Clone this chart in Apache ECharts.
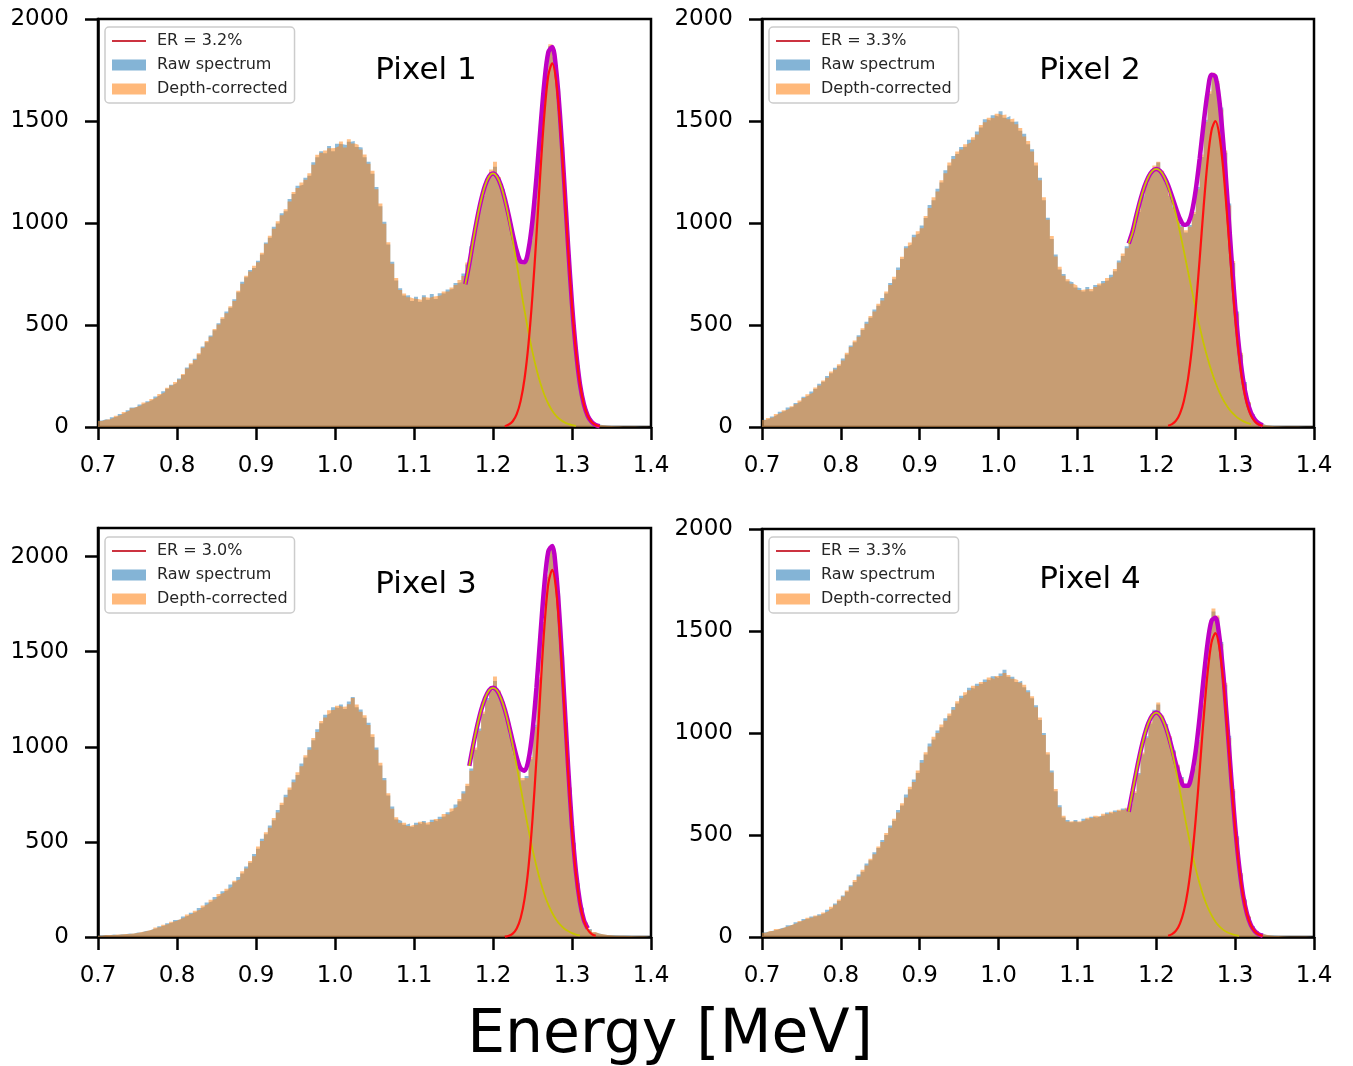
<!DOCTYPE html>
<html>
<head>
<meta charset="utf-8">
<title>Pixel spectra</title>
<script src="https://cdn.jsdelivr.net/npm/echarts@6/dist/echarts.min.js"></script>
<style>
  html, body { margin: 0; padding: 0; background: #ffffff; }
  #chart { width: 1353px; height: 1066px; }
</style>
</head>
<body>
<div id="chart"></div>
<script>
// histogram bins: 0.700 .. 1.400 MeV, 0.005 MeV wide
const binStart = 0.70, binWidth = 0.005, binEnd = 1.40;
const fitStep = 0.005;

// Pixel 1
const raw1 = [32,38,35,48,52,64,70,82,95,98,
  110,116,126,133,150,158,175,188,207,216,
  238,255,292,306,334,356,395,416,448,474,
  508,530,566,585,626,660,712,734,770,780,
  815,846,905,928,982,998,1048,1058,1118,1142,
  1182,1188,1222,1232,1298,1322,1352,1342,1378,1352,
  1388,1386,1382,1398,1402,1372,1370,1322,1300,1242,
  1176,1082,1006,894,810,718,680,644,646,618,
  638,614,646,624,652,628,656,654,674,676,
  706,710,752,796,886,964,1066,1134,1208,1250,
  1276,1214,1166,1074,996,894,836,796,830,914,
  1106,1324,1578,1752,1868,1812,1658,1372,1066,734,
  494,296,168,82,44,19,12,8,6,5,
  5,4,3,3,2,2,2,1,1,1];
const cor1 = [30,36,38,45,55,60,73,80,92,101,
  106,120,122,137,146,162,170,192,203,220,
  233,260,287,312,328,362,389,422,442,480,
  502,538,558,592,618,668,702,742,762,790,
  808,854,898,938,972,1008,1038,1068,1106,1152,
  1172,1198,1212,1244,1286,1334,1344,1356,1366,1368,
  1376,1400,1370,1410,1390,1384,1360,1336,1290,1256,
  1166,1096,996,906,800,730,672,654,636,630,
  628,624,636,634,640,642,646,664,664,684,
  696,720,740,806,874,976,1056,1146,1196,1262,
  1300,1226,1156,1086,986,906,826,804,822,926,
  1096,1338,1566,1770,1876,1830,1646,1390,1056,748,
  488,304,162,88,40,21,10,8,6,5,
  4,4,3,2,2,2,1,1,1,1];
const total1 = [700,801,916,1023,1114,1184,1228,1243,1228,1185,1118,1035,944,864,811,808,872,1014,1222,1464,
  1689,1837,1863,1749,1517,1212,892,603,376,212,112,54,24,10,4];
const yellow1 = [700,801,916,1023,1114,1184,1228,1243,1228,1184,1114,1023,916,801,683,569,462,367,284,214,
  158,114,80,55,37,24,15,9,5];
const red1 = [4,12,28,63,128,239,410,647,938,1250,1531,1723,1783,1694,1480,1188,877,594,371,212,112,54,24,10,4];

// Pixel 2
const raw2 = [36,40,52,60,75,78,95,98,118,125,
  148,155,174,186,212,222,250,264,290,300,
  336,356,400,415,450,476,516,535,576,594,
  632,654,706,724,782,824,886,894,942,948,
  988,1024,1088,1112,1168,1198,1258,1282,1328,1338,
  1372,1374,1408,1408,1448,1468,1508,1502,1528,1522,
  1548,1516,1524,1496,1498,1452,1438,1386,1362,1282,
  1222,1112,1026,922,846,772,750,714,710,684,
  680,664,686,666,696,694,716,718,746,764,
  816,838,886,924,996,1054,1136,1194,1246,1268,
  1296,1244,1206,1134,1086,1018,990,954,990,1044,
  1176,1324,1506,1634,1726,1684,1566,1344,1096,804,
  566,354,220,116,64,28,16,9,6,5,
  4,4,3,3,2,2,2,1,1,1];
const cor2 = [34,44,48,64,70,82,90,102,112,130,
  142,160,168,194,204,228,242,272,282,308,
  326,364,392,424,442,484,506,544,566,604,
  620,664,696,736,770,834,876,904,930,960,
  974,1034,1074,1126,1154,1210,1244,1296,1314,1350,
  1360,1386,1394,1420,1434,1480,1494,1516,1514,1536,
  1530,1532,1508,1512,1484,1466,1424,1402,1350,1296,
  1210,1126,1016,936,836,786,742,724,702,694,
  672,674,676,676,686,704,706,730,736,774,
  806,850,876,934,986,1064,1126,1206,1236,1282,
  1300,1256,1196,1144,1076,1030,982,964,982,1054,
  1166,1336,1496,1646,1736,1696,1556,1356,1086,814,
  556,364,212,122,60,31,14,9,6,4,
  4,3,3,3,2,2,1,1,1,1];
const total2 = [900,960,1041,1116,1179,1226,1255,1265,1255,1226,1185,1130,1072,1021,991,997,1052,1161,1315,1488,
  1639,1727,1718,1601,1392,1128,848,594,386,234,133,71,37,18,8];
const yellow2 = [900,955,1041,1116,1179,1226,1255,1265,1255,1226,1179,1116,1041,955,863,767,672,579,492,411,
  338,274,218,171,132,101,75,56,40,29,20,14];
const red2 = [6,14,31,66,128,230,380,582,823,1077,1301,1453,1500,1430,1260,1027,773,538,346,205,113,57,27,12,5];

// Pixel 3
const raw3 = [8,11,9,13,11,15,14,18,17,23,
  24,31,33,42,46,57,60,72,76,90,
  92,108,112,128,132,152,158,182,188,210,
  218,240,246,276,288,316,334,370,390,436,
  464,516,540,586,614,668,694,748,774,828,
  852,912,944,998,1034,1092,1124,1168,1178,1208,
  1204,1222,1198,1238,1262,1208,1196,1152,1126,1052,
  996,902,836,744,686,618,610,590,596,580,
  600,594,610,592,616,608,632,634,656,664,
  696,714,766,794,886,984,1096,1174,1256,1294,
  1346,1284,1236,1144,1066,964,896,824,846,934,
  1116,1354,1656,1894,2046,2004,1806,1474,1126,774,
  496,276,154,72,42,24,19,13,11,9,
  8,7,6,6,5,5,4,4,4,3];
const cor3 = [7,10,10,11,13,13,16,16,19,21,
  26,29,35,39,50,53,64,68,80,86,
  96,102,118,122,138,144,166,174,196,200,
  226,232,254,264,296,304,346,360,400,424,
  476,504,550,574,626,654,706,734,786,814,
  866,898,956,984,1046,1078,1136,1154,1192,1194,
  1216,1210,1212,1224,1256,1222,1184,1166,1114,1066,
  984,916,824,756,674,630,600,600,584,590,
  590,606,600,604,604,620,620,646,644,676,
  684,726,754,806,874,996,1084,1186,1244,1306,
  1370,1296,1224,1156,1054,976,884,836,834,946,
  1104,1366,1644,1906,2052,2016,1794,1486,1114,786,
  484,284,146,78,38,26,17,15,10,9,
  7,7,6,5,5,4,4,4,3,3];
const total3 = [900,1010,1109,1193,1256,1297,1310,1297,1256,1195,1116,1028,945,886,874,933,1080,1310,1587,1852,
  2027,2056,1913,1630,1268,901,582,343,185,90,45];
const yellow3 = [900,1010,1109,1193,1256,1297,1310,1297,1256,1193,1109,1010,900,786,672,563,462,372,292,225,
  170,126,91,65,45,31,20,13,8];
const red3 = [2,7,18,45,100,202,370,618,938,1295,1627,1857,1930,1822,1565,1223,870,562,330,177,86,38,15,6];

// Pixel 4
const raw4 = [23,27,32,36,44,47,57,60,72,76,
  88,90,100,102,112,116,134,142,164,176,
  204,222,254,270,306,320,360,376,416,436,
  476,500,546,570,622,644,698,724,772,804,
  868,894,948,968,1012,1028,1072,1084,1128,1144,
  1182,1190,1222,1218,1242,1240,1262,1258,1278,1270,
  1292,1310,1276,1276,1250,1256,1224,1210,1170,1136,
  1064,1000,894,816,714,646,586,574,562,574,
  562,580,576,590,586,594,596,610,606,620,
  616,630,626,654,706,804,896,984,1046,1114,
  1140,1076,1044,976,914,836,784,736,764,826,
  966,1136,1346,1496,1596,1566,1446,1236,986,716,
  494,306,184,98,54,27,17,10,7,6,
  5,4,4,3,3,3,2,2,2,1];
const cor4 = [21,29,29,39,41,49,54,63,69,79,
  84,94,96,106,106,120,128,148,158,184,
  198,228,248,280,296,330,350,384,406,444,
  466,510,536,580,610,656,684,736,760,816,
  854,906,934,982,1000,1042,1060,1096,1114,1156,
  1170,1200,1210,1232,1230,1250,1250,1272,1264,1280,
  1280,1294,1284,1266,1260,1246,1236,1200,1180,1126,
  1076,990,906,806,726,636,594,566,568,566,
  568,572,584,582,594,588,604,602,614,612,
  624,622,634,648,714,796,904,976,1054,1108,
  1150,1086,1036,984,906,844,776,744,756,834,
  956,1146,1336,1506,1610,1576,1436,1246,976,726,
  486,314,178,102,50,29,15,11,7,5,
  5,4,3,3,3,2,2,2,1,1];
const total4 = [614,716,817,909,988,1049,1087,1100,1087,1049,994,923,848,782,741,741,796,912,1079,1268,
  1439,1550,1565,1472,1287,1043,783,543,350,207,114,58,28,13,6];
const yellow4 = [614,716,817,909,988,1049,1087,1100,1087,1049,988,909,817,716,614,513,419,334,261,198,
  147,107,75,52,35,23,15,9,6];
const red4 = [6,14,31,66,127,228,377,578,818,1070,1292,1443,1490,1420,1252,1020,768,534,344,204,112,57,27,12,5];

const xTicks = [0.7, 0.8, 0.9, 1.0, 1.1, 1.2, 1.3, 1.4];
const yTicks = [0, 500, 1000, 1500, 2000];

const panels = [
  { title: 'Pixel 1', er: 'ER = 3.2%', raw: raw1, cor: cor1, total: total1, totalStart: 1.165,
    yellow: yellow1, yellowStart: 1.165, red: red1, redStart: 1.215, yMax: 2000 },
  { title: 'Pixel 2', er: 'ER = 3.3%', raw: raw2, cor: cor2, total: total2, totalStart: 1.165,
    yellow: yellow2, yellowStart: 1.165, red: red2, redStart: 1.215, yMax: 2000 },
  { title: 'Pixel 3', er: 'ER = 3.0%', raw: raw3, cor: cor3, total: total3, totalStart: 1.17,
    yellow: yellow3, yellowStart: 1.17, red: red3, redStart: 1.215, yMax: 2150 },
  { title: 'Pixel 4', er: 'ER = 3.3%', raw: raw4, cor: cor4, total: total4, totalStart: 1.165,
    yellow: yellow4, yellowStart: 1.165, red: red4, redStart: 1.215, yMax: 2000 }
];

// layout of the four boxes (left, top, width, height), title and legend spots
const boxes = [
  { left: 98, top: 19, width: 553, height: 408, tx: 426, ty: 55, lx: 105, ly: 27 },
  { left: 762, top: 19, width: 552, height: 408, tx: 1090, ty: 55, lx: 769, ly: 27 },
  { left: 98, top: 528, width: 553, height: 409, tx: 426, ty: 569, lx: 105, ly: 537 },
  { left: 762, top: 529, width: 552, height: 408, tx: 1090, ty: 564, lx: 769, ly: 537 }
];

const FONT = '"DejaVu Sans", sans-serif';
const BLUE = '#1f77b4', ORANGE = '#ff7f0e';

function histPoints(vals) {
  const pts = vals.map((v, i) => [+(binStart + i * binWidth).toFixed(3), v]);
  pts.push([binEnd, vals[vals.length - 1]]);
  return pts;
}
function curvePoints(start, vals) {
  return vals.map((v, i) => [+(start + i * fitStep).toFixed(3), v]);
}

const grid = [], xAxis = [], yAxis = [], series = [], legend = [], title = [];

panels.forEach((p, k) => {
  const b = boxes[k];
  grid.push({ left: b.left, top: b.top, width: b.width, height: b.height,
    show: true, borderColor: '#000', borderWidth: 2.5, backgroundColor: 'transparent' });

  xAxis.push({
    type: 'value', gridIndex: k, min: 0.7, max: 1.4, interval: 0.1,
    axisLine: { show: true, onZero: false, lineStyle: { color: '#000', width: 2.5 } },
    axisTick: { show: true, length: 13, lineStyle: { color: '#000', width: 2.5 }, customValues: xTicks },
    axisLabel: { margin: 28, fontFamily: FONT, fontSize: 23, color: '#000', customValues: xTicks,
      formatter: v => v.toFixed(1) },
    splitLine: { show: false }
  });
  yAxis.push({
    type: 'value', gridIndex: k, min: 0, max: p.yMax, interval: 500,
    axisLine: { show: true, lineStyle: { color: '#000', width: 2.5 } },
    axisTick: { show: true, length: 13, lineStyle: { color: '#000', width: 2.5 }, customValues: yTicks },
    axisLabel: { margin: 29, fontFamily: FONT, fontSize: 23, color: '#000', customValues: yTicks,
      formatter: v => String(v) },
    splitLine: { show: false }
  });

  series.push({
    name: 'Raw spectrum', type: 'line', xAxisIndex: k, yAxisIndex: k,
    data: histPoints(p.raw), step: 'end', symbol: 'none', z: 2,
    itemStyle: { color: BLUE }, lineStyle: { width: 0 },
    areaStyle: { color: BLUE, opacity: 0.5 }
  });
  series.push({
    name: 'Depth-corrected', type: 'line', xAxisIndex: k, yAxisIndex: k,
    data: histPoints(p.cor), step: 'end', symbol: 'none', z: 3,
    itemStyle: { color: ORANGE }, lineStyle: { width: 0 },
    areaStyle: { color: ORANGE, opacity: 0.5 }
  });
  series.push({
    name: 'Total fit', type: 'line', xAxisIndex: k, yAxisIndex: k,
    data: curvePoints(p.totalStart, p.total), smooth: 0.3, symbol: 'none', z: 4,
    lineStyle: { color: '#bf00c4', width: 4.5 }, itemStyle: { color: '#bf00c4' }
  });
  series.push({
    name: 'Peak 1.17', type: 'line', xAxisIndex: k, yAxisIndex: k,
    data: curvePoints(p.yellowStart, p.yellow), smooth: 0.3, symbol: 'none', z: 5,
    lineStyle: { color: '#c8c400', width: 1.8 }, itemStyle: { color: '#c8c400' }
  });
  series.push({
    name: p.er, type: 'line', xAxisIndex: k, yAxisIndex: k,
    data: curvePoints(p.redStart, p.red), smooth: 0.3, symbol: 'none', z: 6,
    lineStyle: { color: '#ff1010', width: 2.2 }, itemStyle: { color: '#ff1010' }
  });

  legend.push({
    orient: 'vertical', left: b.lx, top: b.ly,
    backgroundColor: 'rgba(255,255,255,0.85)', borderColor: '#cccccc', borderWidth: 1.5, borderRadius: 4,
    padding: [6, 7, 6, 7], itemGap: 8, itemWidth: 34, itemHeight: 11,
    selectedMode: false,
    textStyle: { fontFamily: FONT, fontSize: 16, color: '#262626', padding: [0, 0, 0, 6] },
    data: [
      { name: p.er, icon: 'path://M0,0H34V2H0Z',
        itemStyle: { color: '#cc3340', borderWidth: 0 }, lineStyle: { color: '#cc3340' } },
      { name: 'Raw spectrum', icon: 'rect', itemStyle: { color: 'rgba(31,119,180,0.55)', borderWidth: 0 } },
      { name: 'Depth-corrected', icon: 'rect', itemStyle: { color: 'rgba(255,127,14,0.55)', borderWidth: 0 } }
    ]
  });

  title.push({
    text: p.title, left: b.tx, top: b.ty, textAlign: 'center', padding: 0,
    textStyle: { fontFamily: FONT, fontSize: 31, fontWeight: 'normal', color: '#000' }
  });
});

title.push({
  text: 'Energy [MeV]', left: 670, top: 1006, textAlign: 'center', padding: 0,
  textStyle: { fontFamily: FONT, fontSize: 60, fontWeight: 'normal', color: '#000' }
});

const chart = echarts.init(document.getElementById('chart'), null, { renderer: 'canvas' });
chart.setOption({
  animation: false,
  backgroundColor: '#ffffff',
  title: title,
  legend: legend,
  grid: grid,
  xAxis: xAxis,
  yAxis: yAxis,
  series: series
});
</script>
</body>
</html>
